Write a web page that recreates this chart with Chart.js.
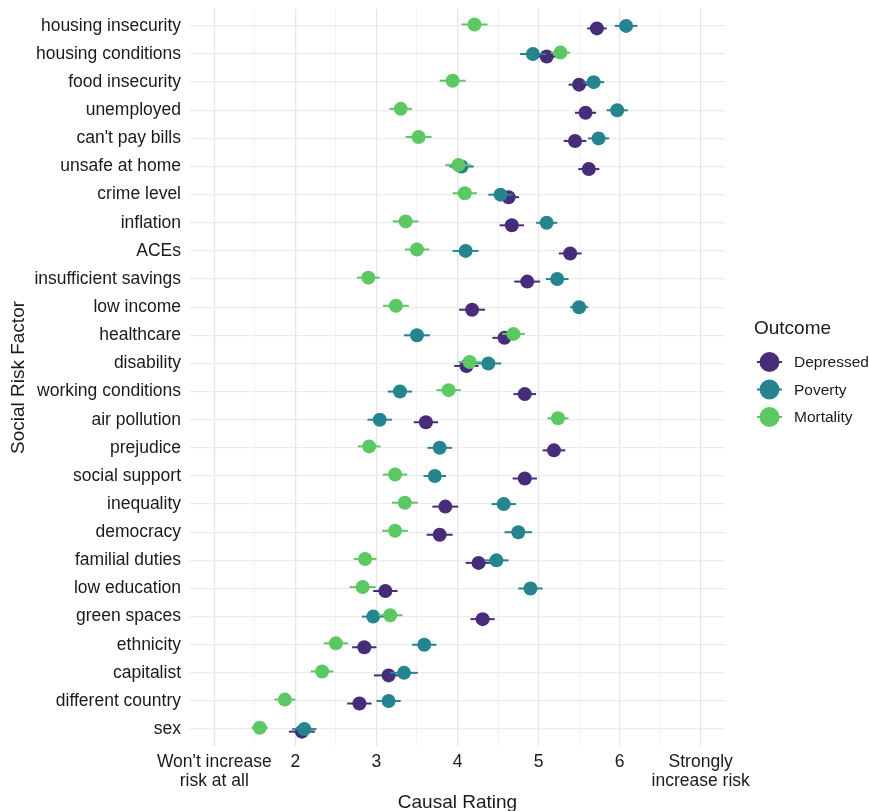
<!DOCTYPE html>
<html>
<head>
<meta charset="utf-8">
<script src="https://cdn.jsdelivr.net/npm/chart.js@4.4.1/dist/chart.umd.min.js"></script>
<style>
  html, body { margin: 0; padding: 0; background: #ffffff; }
  #grafico { display: block; }
</style>
</head>
<body>
<canvas id="grafico" width="869" height="811"></canvas>
<script>
// Dados do gráfico:
const fatores = ["housing insecurity", "housing conditions", "food insecurity", "unemployed",
  "can't pay bills", "unsafe at home", "crime level", "inflation", "ACEs", "insufficient savings",
  "low income", "healthcare", "disability", "working conditions", "air pollution", "prejudice",
  "social support", "inequality", "democracy", "familial duties", "low education", "green spaces",
  "ethnicity", "capitalist", "different country", "sex"]

const depressed = [5.72, 5.10, 5.50, 5.58, 5.45, 5.62, 4.63, 4.67, 5.39, 4.86, 4.18, 4.58, 4.11,
  4.83, 3.61, 5.19, 4.83, 3.85, 3.78, 4.26, 3.11, 4.31, 2.85, 3.15, 2.79, 2.08]
const poverty = [6.08, 4.93, 5.68, 5.97, 5.74, 4.05, 4.53, 5.10, 4.10, 5.23, 5.50, 3.50, 4.38,
  3.29, 3.04, 3.78, 3.72, 4.57, 4.75, 4.48, 4.90, 2.96, 3.59, 3.34, 3.15, 2.11]
const mortality = [4.21, 5.27, 3.94, 3.30, 3.52, 4.01, 4.09, 3.36, 3.50, 2.90, 3.24, 4.69, 4.15,
  3.89, 5.24, 2.91, 3.23, 3.35, 3.23, 2.86, 2.83, 3.17, 2.50, 2.33, 1.87, 1.56]

// Meia largura das barras de erro
const depressed_err = [0.12, 0.12, 0.13, 0.13, 0.14, 0.13, 0.13, 0.15, 0.14, 0.16, 0.16, 0.15, 0.15,
  0.14, 0.15, 0.14, 0.15, 0.16, 0.16, 0.16, 0.15, 0.15, 0.15, 0.18, 0.15, 0.16]
const poverty_err = [0.14, 0.16, 0.13, 0.13, 0.13, 0.15, 0.15, 0.13, 0.16, 0.14, 0.11, 0.16, 0.16,
  0.15, 0.15, 0.15, 0.14, 0.15, 0.17, 0.15, 0.15, 0.14, 0.15, 0.17, 0.15, 0.15]
const mortality_err = [0.16, 0.12, 0.16, 0.14, 0.16, 0.16, 0.15, 0.16, 0.15, 0.14, 0.16, 0.14, 0.14,
  0.15, 0.13, 0.14, 0.15, 0.16, 0.16, 0.14, 0.16, 0.15, 0.15, 0.14, 0.13, 0.10]

const x_ticks = [1, 2, 3, 4, 5, 6, 7]
const x_labels = [["Won't increase", "risk at all"], "2", "3", "4", "5", "6", ["Strongly", "increase risk"]]

const roxo = "#472c7a"
const azul = "#25848e"
const verde = "#5cc863"
const texto = "#1a1a1a"
const fonte = "'Liberation Sans', Arial, sans-serif"

// Deslocamento vertical de cada grupo (dodge)
const series = [
  { nome: "Depressed", valores: depressed, erros: depressed_err, cor: roxo, dodge: 0.09, ordem: 2 },
  { nome: "Poverty", valores: poverty, erros: poverty_err, cor: azul, dodge: 0, ordem: 1 },
  { nome: "Mortality", valores: mortality, erros: mortality_err, cor: verde, dodge: -0.05, ordem: 0 }
]

const datasets = series.map(s => ({
  label: s.nome,
  data: s.valores.map((v, i) => ({ x: v, y: i + s.dodge })),
  erros: s.erros,
  backgroundColor: s.cor,
  borderColor: s.cor,
  borderWidth: 0,
  pointRadius: 7,
  pointHoverRadius: 7,
  order: s.ordem
}))

// Barras de erro desenhadas antes de cada conjunto de pontos
const barrasErro = {
  id: 'barrasErro',
  beforeDatasetDraw(chart, args) {
    const ds = chart.data.datasets[args.index]
    const x = chart.scales.x, y = chart.scales.y
    const ctx = chart.ctx
    ctx.save()
    ctx.strokeStyle = ds.borderColor
    ctx.lineWidth = 2
    ds.data.forEach((p, i) => {
      const py = y.getPixelForValue(p.y)
      ctx.beginPath()
      ctx.moveTo(x.getPixelForValue(p.x - ds.erros[i]), py)
      ctx.lineTo(x.getPixelForValue(p.x + ds.erros[i]), py)
      ctx.stroke()
    })
    ctx.restore()
  }
}

// Legenda no estilo do ggplot
const legenda = {
  id: 'legenda',
  afterDraw(chart) {
    const ctx = chart.ctx
    const area = chart.chartArea
    const x0 = area.right + 29
    const cy = (area.top + area.bottom) / 2
    ctx.save()
    ctx.fillStyle = texto
    ctx.textBaseline = 'middle'
    ctx.textAlign = 'left'
    ctx.font = "19px " + fonte
    ctx.fillText("Outcome", x0, cy - 49)
    ctx.font = "15.5px " + fonte
    series.forEach((s, i) => {
      const yy = cy - 15.5 + i * 27.5
      ctx.strokeStyle = s.cor
      ctx.lineWidth = 2
      ctx.beginPath()
      ctx.moveTo(x0 + 3, yy)
      ctx.lineTo(x0 + 28, yy)
      ctx.stroke()
      ctx.fillStyle = s.cor
      ctx.beginPath()
      ctx.arc(x0 + 15.5, yy, 10, 0, Math.PI * 2)
      ctx.fill()
      ctx.fillStyle = texto
      ctx.fillText(s.nome, x0 + 40, yy + 1)
    })
    ctx.restore()
  }
}

const c_grafico = document.getElementById('grafico').getContext('2d')
new Chart(c_grafico, {
  type: 'scatter',
  data: { datasets: datasets },
  plugins: [barrasErro, legenda],
  options: {
    responsive: false,
    animation: false,
    events: [],
    layout: { padding: { top: 9, right: 144, bottom: 0, left: 0 } },
    scales: {
      x: {
        type: 'linear',
        min: 0.7,
        max: 7.3,
        afterBuildTicks: (scale) => {
          let t = []
          x_ticks.forEach((v, i) => {
            t.push({ value: v })
            if (i < x_ticks.length - 1) t.push({ value: v + 0.5 }) // linhas menores
          })
          scale.ticks = t
        },
        afterFit: (scale) => {
          scale.height = 65
          scale.paddingLeft = 0
          scale.paddingRight = 0
        },
        grid: {
          color: (c) => Number.isInteger(c.tick.value) ? '#e6e6e6' : '#f0f0f0',
          lineWidth: (c) => Number.isInteger(c.tick.value) ? 1.3 : 0.9,
          drawTicks: false
        },
        border: { display: false },
        ticks: {
          autoSkip: false,
          maxRotation: 0,
          padding: 6,
          color: texto,
          font: { family: fonte, size: 17.5, lineHeight: 1.12 },
          callback: (value) => {
            const i = x_ticks.indexOf(value)
            return i >= 0 ? x_labels[i] : ''
          }
        },
        title: {
          display: true,
          text: 'Causal Rating',
          color: texto,
          font: { family: fonte, size: 19, lineHeight: 0.85 },
          padding: { top: 0, bottom: 0 }
        }
      },
      y: {
        type: 'linear',
        reverse: true,
        min: -0.6,
        max: fatores.length - 0.4,
        afterBuildTicks: (scale) => {
          scale.ticks = fatores.map((f, i) => ({ value: i }))
        },
        afterFit: (scale) => {
          scale.width = 190
          scale.paddingTop = 0 // sem espaço extra para o rótulo do topo
          scale.paddingBottom = 0
        },
        grid: { color: '#ebebeb', lineWidth: 1.3, drawTicks: false },
        border: { display: false },
        ticks: {
          autoSkip: false,
          padding: 9,
          color: texto,
          font: { family: fonte, size: 17.5 },
          callback: (value) => fatores[value]
        },
        title: {
          display: true,
          text: 'Social Risk Factor',
          color: texto,
          font: { family: fonte, size: 19 },
          padding: { top: 7, bottom: 0 }
        }
      }
    },
    plugins: {
      legend: { display: false },
      tooltip: { enabled: false }
    }
  }
})
</script>
</body>
</html>
